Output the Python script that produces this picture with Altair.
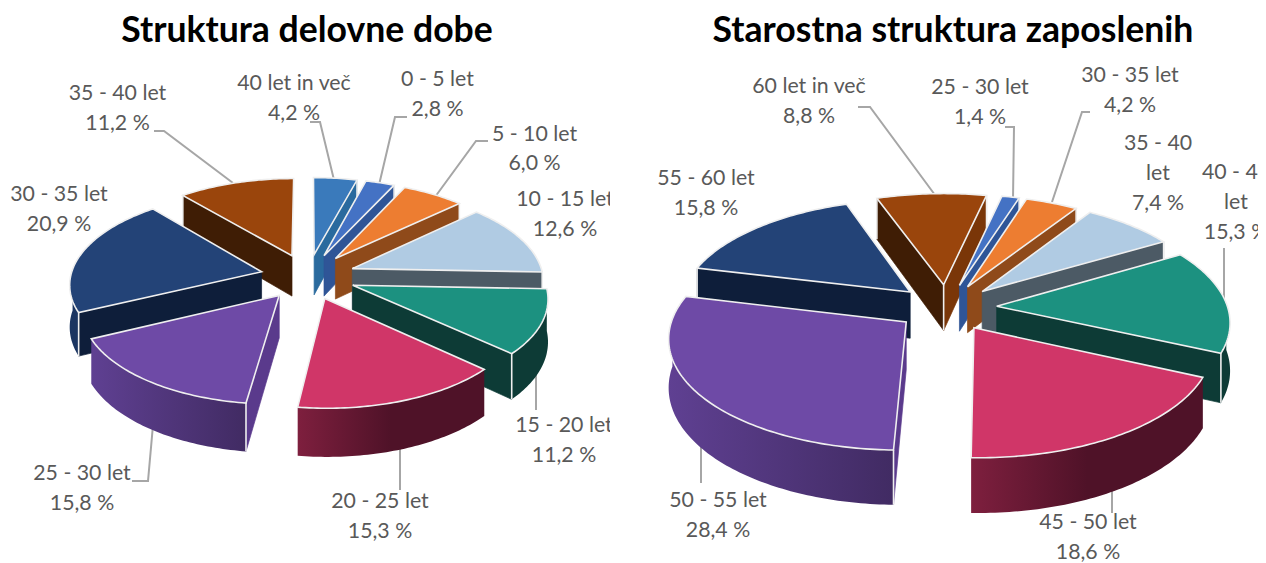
import math
import altair as alt

# ---- data ----
left_title = "Struktura delovne dobe"
right_title = "Starostna struktura zaposlenih"
left_labels = ["40 let in več", "0 - 5 let", "5 - 10 let", "10 - 15 let", "15 - 20 let",
               "20 - 25 let", "25 - 30 let", "30 - 35 let", "35 - 40 let"]
left_values = [4.2, 2.8, 6.0, 12.6, 11.2, 15.3, 15.8, 20.9, 11.2]
right_labels = ["25 - 30 let", "30 - 35 let", "35 - 40 let", "40 - 45 let", "45 - 50 let",
                "50 - 55 let", "55 - 60 let", "60 let in več"]
right_values = [1.4, 4.2, 7.4, 15.3, 18.6, 28.4, 15.8, 8.8]

# ---- styles: top, radial end face, radial start face, arc left, arc right, gradient span ----
STEEL = ("#3A7ABB", "#2A6A9E", "#2A6A9E", "#2A6A9E", "#2A6A9E", 1)
BLUE = ("#4472C4", "#2F5597", "#2F5597", "#2F5597", "#2F5597", 1)
ORANGE = ("#ED7D31", "#8F4A1A", "#8F4A1A", "#8F4A1A", "#8F4A1A", 1)
SKY = ("#B0CBE3", "#4C5A65", "#4C5A65", "#4C5A65", "#4C5A65", 1)
TEAL = ("#1C9180", "#0D3B36", "#0D3B36", "#0D3B36", "#0D3B36", 1)
RED = ("#D03668", "#5A1530", "#5A1530", "#7E1F3E", "#4F1228", 0.5)
PURPLE = ("#6E4AA6", "#5A3A8C", "#5A3A8C", "#5F4092", "#412B63", 1)
NAVY = ("#234377", "#0E1E3A", "#0E1E3A", "#1B3561", "#1B3561", 1)
BROWN = ("#9A450C", "#7A3608", "#3F1D05", "#3F1D05", "#3F1D05", 1)
left_styles = [STEEL, BLUE, ORANGE, SKY, TEAL, RED, PURPLE, NAVY, BROWN]
right_styles = [BLUE, ORANGE, SKY, TEAL, RED, PURPLE, NAVY, BROWN]

EDGE = "#EFEFEF"
LEADER = "#A6A6A6"
TEXT = "#595959"
FONT = "Lato"

# ---- layout (page pixels) ----
left_geom = dict(cx=308, cy=276.5, R=191, A=91, k=0.119, D=41.5, e=0.25, start=0)
right_geom = dict(cx=946.7, cy=307.5, R=231, A=108, k=0.126, D=47, e=0.217, start=12.6)
left_text_at = {
    "40 let in več": (294, 83, 113), "0 - 5 let": (437.5, 79, 109), "5 - 10 let": (534.5, 134, 163),
    "10 - 15 let": (565, 199, 229), "15 - 20 let": (564, 425, 455), "20 - 25 let": (380, 501, 531),
    "25 - 30 let": (82, 473, 503), "30 - 35 let": (59, 194, 224), "35 - 40 let": (117.5, 93, 123)}
right_text_at = {
    "25 - 30 let": (980, 87, 117), "30 - 35 let": (1130, 75, 105), "35 - 40 let": (1158, 143, 203),
    "40 - 45 let": (1236, 172, 232), "45 - 50 let": (1088, 522, 552), "50 - 55 let": (718, 500, 530),
    "55 - 60 let": (706, 178, 208), "60 let in več": (809, 86, 116)}
right_wrapped = {"35 - 40 let": 173, "40 - 45 let": 202}
left_leaders = [
    [(154, 131), (164, 131), (233, 183)], [(310, 122), (320, 122), (334, 180)],
    [(407, 117), (395, 117), (379, 185)], [(488, 141), (476, 141), (435, 197)],
    [(536, 367), (536, 410)], [(400, 445), (400, 490)],
    [(153, 425), (148, 481), (132, 481)]]
right_leaders = [
    [(858, 107), (870, 107), (935, 195)], [(1005, 127), (1014, 127), (1013, 199)],
    [(1090, 112), (1082, 112), (1052, 202)], [(1224, 248), (1224, 302)],
    [(1112, 490), (1112, 513)], [(701, 447), (701, 483)]]
OX, OY = 8, 8
WIDTH, HEIGHT = 1250, 554
PROJ = dict(type="identity", scale=1, translate=[0, 0])


def slice_groups(values, styles, g):
    """Back-to-front list of (plain faces, wall polygon, wall style, edges and top)."""
    def pt(X, Y, Z=0.0):
        s = 1 / (1 + g["k"] * Y)
        return [g["cx"] + g["R"] * X * s - OX, g["cy"] - g["A"] * Y * s + Z * g["D"] * s - OY]

    def poly(ring, fill, stroke=None, sw=0.7):
        return {"type": "Feature", "geometry": {"type": "Polygon", "coordinates": [ring + ring[:1]]},
                "properties": {"fill": fill, "stroke": stroke or fill, "sw": sw}}

    def line(coords, stroke=EDGE, sw=1.6):
        return {"type": "Feature", "geometry": {"type": "LineString", "coordinates": coords},
                "properties": {"fill": "transparent", "stroke": stroke, "sw": sw}}

    slices = []
    t0 = g["start"]
    for v, st in zip(values, styles):
        t1 = t0 + v * 3.6
        slices.append((t0, t1, st))
        t0 = t1
    slices.sort(key=lambda q: -math.cos(math.radians((q[0] + q[1]) / 2)))
    groups = []
    for a0, a1, st in slices:
        mid = math.radians((a0 + a1) / 2)
        ex, ey = g["e"] * math.sin(mid), g["e"] * math.cos(mid)
        n = max(4, int(a1 - a0))
        angs = [a0 + (a1 - a0) * i / n for i in range(n + 1)]
        P = lambda a: (ex + math.sin(math.radians(a)), ey + math.cos(math.radians(a)))
        s0, s1 = math.sin(math.radians(a0)), math.sin(math.radians(a1))
        faces, over = [], []
        if s0 < 0:
            faces.append(poly([pt(ex, ey), pt(*P(a0)), pt(*P(a0), 1), pt(ex, ey, 1)], st[2]))
            over.append(line([pt(*P(a0)), pt(*P(a0), 1)]))
        if s1 > 0:
            faces.append(poly([pt(ex, ey), pt(*P(a1)), pt(*P(a1), 1), pt(ex, ey, 1)], st[1]))
            over.append(line([pt(*P(a1)), pt(*P(a1), 1)]))
        if s0 < 0 and s1 > 0:
            over.append(line([pt(ex, ey), pt(ex, ey, 1)]))
        front = [a for a in angs if math.cos(math.radians(a)) < 0.03]
        wall = None
        if len(front) > 1:
            ring = [pt(*P(a)) for a in front] + [pt(*P(a), 1) for a in reversed(front)]
            wall = {"type": "Feature", "geometry": {"type": "Polygon", "coordinates": [ring + ring[:1]]},
                    "properties": {}}
        over.append(poly([pt(ex, ey)] + [pt(*P(a)) for a in angs], st[0], EDGE, 1.6))
        groups.append((faces, wall, st, over))
    return groups


def leader_features(leaders):
    return [{"type": "Feature",
             "geometry": {"type": "LineString", "coordinates": [[x - OX, y - OY] for x, y in seg]},
             "properties": {}} for seg in leaders]


def pct(v):
    return f"{v:.1f}".replace(".", ",") + " %"


def text_rows(labels, values, where, wrapped):
    rows = []
    for lab, v in zip(labels, values):
        cx, y1, y2 = where[lab]
        if lab in wrapped:
            head = lab.rsplit(" ", 1)
            rows.append(dict(t=head[0], px=cx - OX, py=y1 - 7))
            rows.append(dict(t=head[1], px=cx - OX, py=wrapped[lab] - 7))
        else:
            rows.append(dict(t=lab, px=cx - OX, py=y1 - 7))
        rows.append(dict(t=pct(v), px=cx - OX, py=y2 - 7))
    return rows


def plain(feats):
    return alt.Chart(alt.Data(values=feats)).mark_geoshape().encode(
        fill=alt.Fill("properties.fill:N", scale=None),
        stroke=alt.Stroke("properties.stroke:N", scale=None),
        strokeWidth=alt.StrokeWidth("properties.sw:Q", scale=None),
    ).project(**PROJ)


def pie_layers(values, styles, g, leaders):
    layers = [alt.Chart(alt.Data(values=leader_features(leaders))).mark_geoshape(
        filled=False, stroke=LEADER, strokeWidth=2).project(**PROJ)]
    for faces, wall, st, over in slice_groups(values, styles, g):
        if faces:
            layers.append(plain(faces))
        if wall:
            grad = alt.LinearGradient(
                gradient="linear", x1=0, x2=1, y1=0, y2=0,
                stops=[alt.GradientStop(color=st[3], offset=0),
                       alt.GradientStop(color=st[4], offset=st[5]),
                       alt.GradientStop(color=st[4], offset=1)])
            layers.append(alt.Chart(alt.Data(values=[wall])).mark_geoshape(
                fill=grad, strokeWidth=0).project(**PROJ))
        layers.append(plain(over))
    return layers


def labels_layer(labels, values, where, wrapped):
    return alt.Chart(alt.Data(values=text_rows(labels, values, where, wrapped))).mark_text(
        font=FONT, fontSize=21.3, color=TEXT, align="center", baseline="middle", clip=True
    ).encode(x=alt.X("px:Q", scale=None, axis=None), y=alt.Y("py:Q", scale=None, axis=None), text="t:N")


def title_layer(title, x):
    return alt.Chart(alt.Data(values=[dict(t=title, px=x - OX, py=31 - OY)])).mark_text(
        font=FONT, fontSize=35.6, fontWeight="bold", color="#000000", align="center", baseline="middle"
    ).encode(x=alt.X("px:Q", scale=None, axis=None), y=alt.Y("py:Q", scale=None, axis=None), text="t:N")


# the left picture's frame ends at x = 610 and cuts its long labels there
frame_cut = alt.Chart(alt.Data(values=[dict(a=610 - OX, b=640 - OX, c=180 - OY, d=470 - OY)])).mark_rect(
    color="white"
).encode(x=alt.X("a:Q", scale=None, axis=None), x2="b:Q", y=alt.Y("c:Q", scale=None, axis=None), y2="d:Q")

layers = (
    pie_layers(left_values, left_styles, left_geom, left_leaders)
    + [labels_layer(left_labels, left_values, left_text_at, {}), frame_cut, title_layer(left_title, 307)]
    + pie_layers(right_values, right_styles, right_geom, right_leaders)
    + [labels_layer(right_labels, right_values, right_text_at, right_wrapped), title_layer(right_title, 953)]
)

chart = alt.layer(*layers).properties(
    width=WIDTH, height=HEIGHT, padding=0, background="white",
    autosize=alt.AutoSizeParams(type="none", contains="padding"),
).configure_view(stroke=None)
chart.save("out.html", embed_options={"renderer": "svg", "actions": False})
